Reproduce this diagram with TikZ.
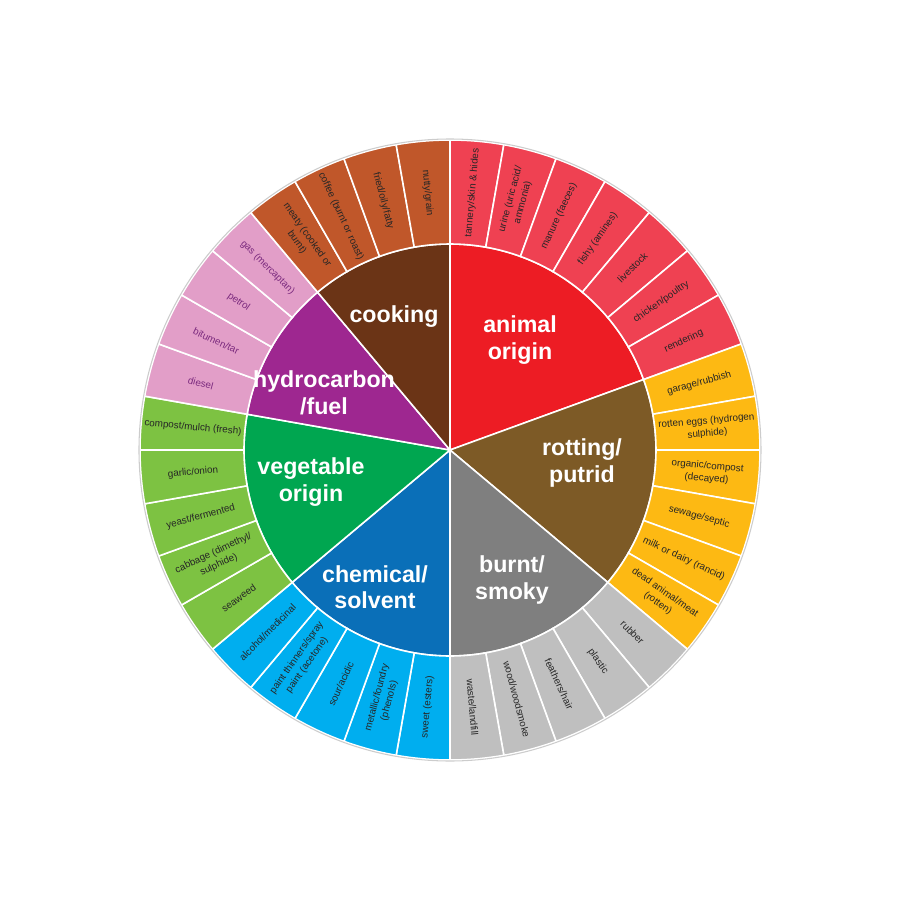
\documentclass[tikz,border=0pt]{standalone}
\usepackage{fontspec}
\setmainfont{Liberation Sans}
\definecolor{animalC}{HTML}{ED1C24}
\definecolor{animalL}{HTML}{EF4152}
\definecolor{rotC}{HTML}{7D5A26}
\definecolor{rotL}{HTML}{FDB913}
\definecolor{burntC}{HTML}{7F7F7F}
\definecolor{burntL}{HTML}{BFBFBF}
\definecolor{chemC}{HTML}{0A6FB8}
\definecolor{chemL}{HTML}{00AEEF}
\definecolor{vegC}{HTML}{00A650}
\definecolor{vegL}{HTML}{7DC242}
\definecolor{hydroC}{HTML}{9E2790}
\definecolor{hydroL}{HTML}{E29EC8}
\definecolor{hydroT}{HTML}{7B2A7E}
\definecolor{cookC}{HTML}{6B3416}
\definecolor{cookL}{HTML}{C0572A}
\tikzset{
  ringlabel/.style={font=\fontsize{5.6}{7.2}\selectfont, align=center, inner sep=0pt},
  mainlabel/.style={font=\fontsize{13.2}{15}\selectfont\bfseries, text=white, align=center},
  sep/.style={draw=white, line width=0.9pt}
}
% outer item: start angle, fill, text colour, text
\newcommand{\petal}[4]{%
  \pgfmathsetmacro{\mid}{#1-5}
  \pgfmathsetmacro{\rot}{(cos(\mid)>0.01 || (\mid<-89 && \mid>-91)) ? \mid : \mid+180}
  \fill[#2, sep] (#1:4.12) arc (#1:#1-10:4.12) -- (#1-10:6.2) arc (#1-10:#1:6.2) -- cycle;
  \node[ringlabel, text=#3, rotate=\rot] at (\mid:5.16) {#4};
}
% inner sector: start, end, fill
\newcommand{\sector}[3]{%
  \fill[#3, sep] (0,0) -- (#1:4.12) arc (#1:#2:4.12) -- cycle;
}
\begin{document}
\begin{tikzpicture}
\useasboundingbox (-9,-9) rectangle (9,9);

% inner sectors
\sector{90}{20}{animalC}
\sector{20}{-40}{rotC}
\sector{-40}{-90}{burntC}
\sector{-90}{-140}{chemC}
\sector{-140}{-190}{vegC}
\sector{-190}{-230}{hydroC}
\sector{-230}{-270}{cookC}

% outer ring
\foreach \a/\t in {90/{tannery/skin \& hides}, 80/{urine (uric acid/\\ammonia)}, 70/{manure (faeces)},
  60/{fishy (amines)}, 50/{livestock}, 40/{chicken/poultry}, 30/{rendering}}
  {\petal{\a}{animalL}{black!85}{\t}}
\foreach \a/\t in {20/{garage/rubbish}, 10/{rotten eggs (hydrogen\\sulphide)}, 0/{organic/compost\\(decayed)},
  -10/{sewage/septic}, -20/{milk or dairy (rancid)}, -30/{dead animal/meat\\(rotten)}}
  {\petal{\a}{rotL}{black!85}{\t}}
\foreach \a/\t in {-40/{rubber}, -50/{plastic}, -60/{feathers/hair}, -70/{wood/woodsmoke}, -80/{waste/landfill}}
  {\petal{\a}{burntL}{black!85}{\t}}
\foreach \a/\t in {-90/{sweet (esters)}, -100/{metallic/foundry\\(phenols)}, -110/{sour/acidic},
  -120/{paint thinners/spray\\paint (acetone)}, -130/{alcohol/medicinal}}
  {\petal{\a}{chemL}{black!85}{\t}}
\foreach \a/\t in {-140/{seaweed}, -150/{cabbage (dimethyl/\\sulphide)}, -160/{yeast/fermented},
  -170/{garlic/onion}, -180/{compost/mulch (fresh)}}
  {\petal{\a}{vegL}{black!85}{\t}}
\foreach \a/\t in {-190/{diesel}, -200/{bitumen/tar}, -210/{petrol}, -220/{gas (mercaptan)}}
  {\petal{\a}{hydroL}{hydroT}{\t}}
\foreach \a/\t in {-230/{meaty (cooked or\\burnt)}, -240/{coffee (burnt or roast)}, -250/{fried/oily/fatty}, -260/{nutty/grain}}
  {\petal{\a}{cookL}{black!85}{\t}}

\draw[black!20, line width=0.6pt] (0,0) circle (6.22);

% main labels
\node[mainlabel] (animal) at (1.4,2.2) {animal\\origin};
\node[mainlabel] (rotting) at (2.64,-0.26) {rotting/\\putrid};
\node[mainlabel] (burnt) at (1.24,-2.6) {burnt/\\smoky};
\node[mainlabel] (chemical) at (-1.5,-2.74) {chemical/\\solvent};
\node[mainlabel] (vegetable) at (-2.78,-0.64) {vegetable\\origin};
\node[mainlabel] (hydro) at (-2.52,1.14) {hydrocarbon\\/fuel};
\node[mainlabel] (cooking) at (-1.12,2.66) {cooking};
\end{tikzpicture}
\end{document}
